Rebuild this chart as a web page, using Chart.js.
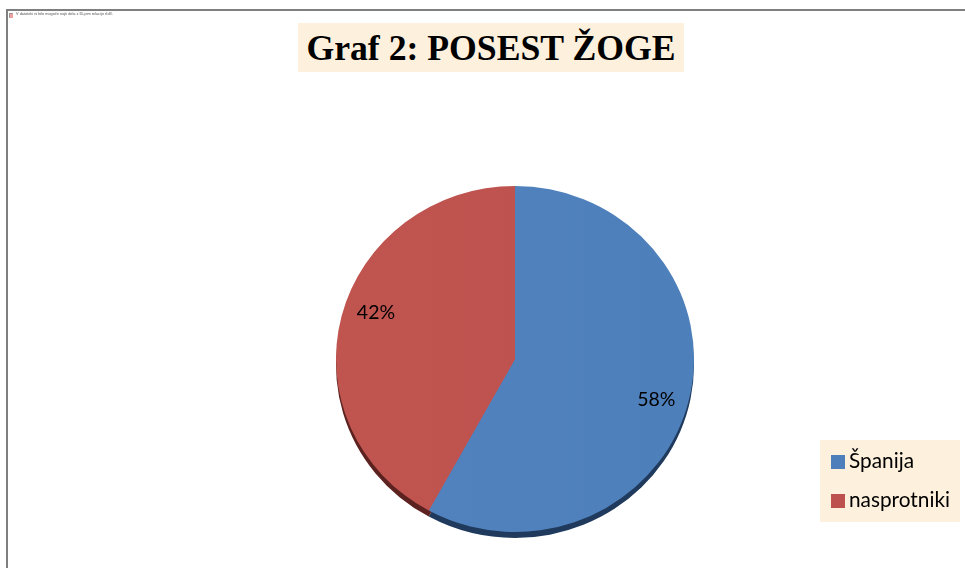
<!DOCTYPE html>
<html lang="sl">
<head>
<meta charset="utf-8">
<title>Graf 2: POSEST ŽOGE</title>
<script src="https://cdn.jsdelivr.net/npm/chart.js@4"></script>
<style>
    html, body { margin: 0; padding: 0; background: #fff; overflow: hidden; }
    #wrap { position: relative; width: 965px; height: 568px; overflow: hidden; }
    #frame { position: absolute; left: 6px; top: 9px; width: 970px; height: 570px; border: 2px solid #7f7f7f; box-sizing: border-box; }
    #missing { position: absolute; left: 16px; top: 12px; font: 3.85px "Liberation Sans", sans-serif; color: #555; white-space: nowrap; }
    #icon { position: absolute; left: 9px; top: 13px; width: 3px; height: 4px; background: #f0a0a0; border-left: 1px solid #999; border-top: 1px solid #999; }
    #title {
        position: absolute; left: 298px; top: 23px; width: 386px; height: 49px;
        background: #fdf0dc; font: bold 35.7px "Liberation Serif", serif; color: #000;
        text-align: center; line-height: 50px; white-space: nowrap;
    }
    #legend {
        position: absolute; left: 820px; top: 440px; width: 140px; height: 82px;
        background: #fdf0dc; font: 20.8px Lato, sans-serif; color: #000;
    }
    #legend div { position: absolute; left: 11px; white-space: nowrap; line-height: 24px; }
    #legend span { display: inline-block; width: 14px; height: 14px; margin-right: 4px; vertical-align: -1px; }
    canvas { position: absolute; left: 0; top: 0; }
</style>
</head>
<body>
<div id="wrap">
    <canvas id="pie-chart" width="965" height="568"></canvas>
    <div id="frame"></div>
    <div id="icon"></div>
    <div id="missing">V datoteki ni bilo mogoče najti dela z ID-jem relacije rId3.</div>
    <div id="title">Graf 2: POSEST ŽOGE</div>
    <div id="legend"></div>
</div>
<script>
// Data
const categories = ['Španija', 'nasprotniki'];
const values = [58, 42];

const sliceColors = ['#4d7fba', '#bd514e'];
const sliceColorsLight = ['#5283be', '#c0544f'];
const sideColors = ['#1f3a5c', '#5c2220'];

// Legend
const legendBox = document.getElementById('legend');
categories.forEach(function(name, i) {
    const row = document.createElement('div');
    row.style.top = (8 + i * 39) + 'px';
    row.innerHTML = '<span style="background:' + sliceColors[i] + '"></span>' + name;
    legendBox.appendChild(row);
});

// The pie in the picture is a little flatter than a circle
const squash = 0.9665;

function flatten(chart, ctx) {
    const arc = chart.getDatasetMeta(0).data[0];
    ctx.translate(0, arc.y);
    ctx.scale(1, squash);
    ctx.translate(0, -arc.y);
}

// Dark edge under the pie, plus flattening of the pie itself
const tiltPlugin = {
    id: 'tilt',
    beforeDatasetsDraw: function(chart) {
        const ctx = chart.ctx;
        const arcs = chart.getDatasetMeta(0).data;
        ctx.save();
        ctx.translate(0, 6);
        flatten(chart, ctx);
        arcs.forEach(function(arc, i) {
            ctx.beginPath();
            ctx.moveTo(arc.x, arc.y);
            ctx.arc(arc.x, arc.y, arc.outerRadius, arc.startAngle, arc.endAngle);
            ctx.closePath();
            ctx.fillStyle = sideColors[i];
            ctx.fill();
        });
        ctx.restore();
        ctx.save();
        flatten(chart, ctx);
        // Backing disc so the dark edge does not show through the seam between the slices
        ctx.beginPath();
        ctx.arc(arcs[0].x, arcs[0].y, arcs[0].outerRadius - 1, 0, Math.PI * 2);
        ctx.fillStyle = sliceColors[1];
        ctx.fill();
    },
    afterDatasetsDraw: function(chart) {
        chart.ctx.restore();
    }
};

// Percentage labels
const labelNudge = [1.3, 4.3];
const percentLabels = {
    id: 'percentLabels',
    afterDraw: function(chart) {
        const ctx = chart.ctx;
        ctx.save();
        ctx.font = '19.5px Lato, sans-serif';
        ctx.fillStyle = '#000';
        ctx.textAlign = 'center';
        ctx.textBaseline = 'middle';
        chart.getDatasetMeta(0).data.forEach(function(arc, i) {
            const angle = (arc.startAngle + arc.endAngle) / 2 + labelNudge[i] * Math.PI / 180;
            const r = arc.outerRadius * 0.82;
            const x = arc.x + Math.cos(angle) * r;
            const y = arc.y + Math.sin(angle) * r;
            ctx.fillText(values[i] + '%', x, y + 1);
        });
        ctx.restore();
    }
};

new Chart(document.getElementById('pie-chart'), {
    type: 'pie',
    data: {
        labels: categories,
        datasets: [{
            data: values,
            borderWidth: 0,
            backgroundColor: function(context) {
                const area = context.chart.chartArea;
                if (!area) return sliceColors[context.dataIndex];
                const g = context.chart.ctx.createLinearGradient(area.left, 0, area.right, 0);
                g.addColorStop(0, sliceColorsLight[context.dataIndex]);
                g.addColorStop(1, sliceColors[context.dataIndex]);
                return g;
            }
        }]
    },
    options: {
        responsive: false,
        animation: false,
        layout: { padding: { left: 336, right: 271, top: 180, bottom: 30 } },
        plugins: {
            legend: { display: false },
            title: { display: false },
            tooltip: { enabled: false }
        }
    },
    plugins: [tiltPlugin, percentLabels]
});
</script>
</body>
</html>
